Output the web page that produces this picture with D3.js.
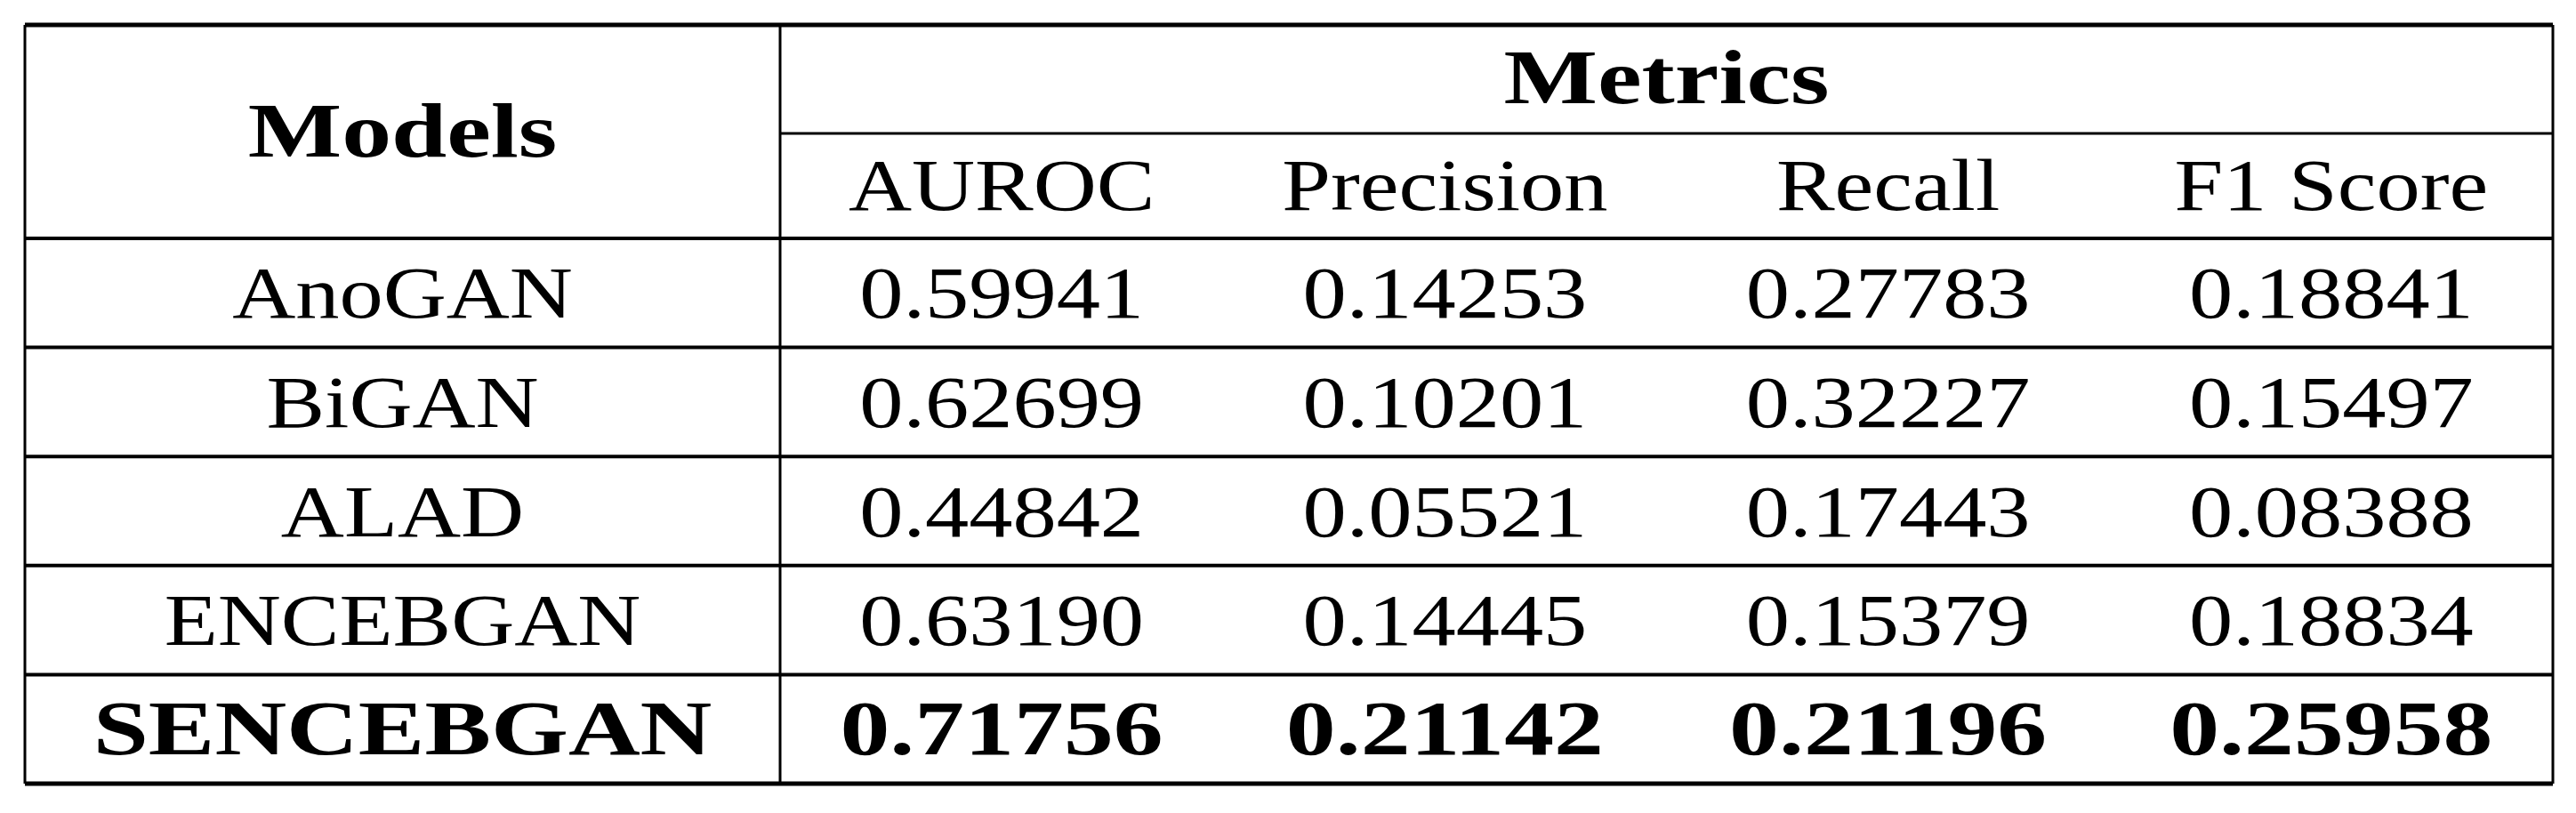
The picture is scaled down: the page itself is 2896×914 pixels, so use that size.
<!DOCTYPE html>
<html><head><meta charset="utf-8">
<script src="https://cdn.jsdelivr.net/npm/d3@7"></script>
<style>body{margin:0;background:#fff}</style>
</head><body>
<svg id="chart" width="2896" height="914"></svg>
<script>
const metrics = ['AUROC', 'Precision', 'Recall', 'F1 Score'];
const models = ['AnoGAN', 'BiGAN', 'ALAD', 'ENCEBGAN', 'SENCEBGAN'];
const values = [
  ['0.59941', '0.14253', '0.27783', '0.18841'],
  ['0.62699', '0.10201', '0.32227', '0.15497'],
  ['0.44842', '0.05521', '0.17443', '0.08388'],
  ['0.63190', '0.14445', '0.15379', '0.18834'],
  ['0.71756', '0.21142', '0.21196', '0.25958']
];
const boldModel = 'SENCEBGAN';

const svg = d3.select('#chart');
const tLeft = 28, tRight = 2870, tTop = 28, split = 877;
const headTop = 150, headBottom = 268, rowH = 122.6;

// column scale for the metric columns
const x = d3.scaleBand().domain(metrics).range([split, tRight]);
const y = d3.scaleBand().domain(models).range([headBottom, headBottom + rowH * models.length]);
const tBottom = y.range()[1];
const modelX = (tLeft + split) / 2;

const font = '"Liberation Serif", "DejaVu Serif", serif';
function label(txt, cx, cy, bold) {
  const sx = bold ? 1.3 : 1.2;
  svg.append('text')
    .attr('transform', `translate(${cx},${cy}) scale(${sx},1)`)
    .attr('text-anchor', 'middle')
    .attr('font-family', font)
    .attr('font-size', bold ? 86 : 82)
    .attr('font-weight', bold ? 'bold' : 'normal')
    .attr('fill', '#000')
    .text(txt);
}

const line = (x1, y1, x2, y2, w) => svg.append('line')
  .attr('x1', x1).attr('y1', y1).attr('x2', x2).attr('y2', y2)
  .attr('stroke', '#000').attr('stroke-width', w);

// borders
line(tLeft, tTop, tRight, tTop, 5);
line(tLeft, tBottom, tRight, tBottom, 5);
line(tLeft, tTop, tLeft, tBottom, 3);
line(tRight, tTop, tRight, tBottom, 3);
line(split, tTop, split, tBottom, 3);
line(split, headTop, tRight, headTop, 3);
line(tLeft, headBottom, tRight, headBottom, 4);
models.forEach(m => { if (y(m) > headBottom) line(tLeft, y(m), tRight, y(m), 4); });

// header
label('Models', modelX, (tTop + headBottom) / 2 + 28, true);
label('Metrics', (split + tRight) / 2, (tTop + headTop) / 2 + 27, true);
metrics.forEach(k => label(k, x(k) + x.bandwidth() / 2, (headTop + headBottom) / 2 + 27, false));

// rows
models.forEach((m, i) => {
  const b = m === boldModel;
  const cy = y(m) + rowH / 2 + 28;
  label(m, modelX, cy, b);
  metrics.forEach((k, j) => label(values[i][j], x(k) + x.bandwidth() / 2, cy, b));
});
</script>
</body></html>
